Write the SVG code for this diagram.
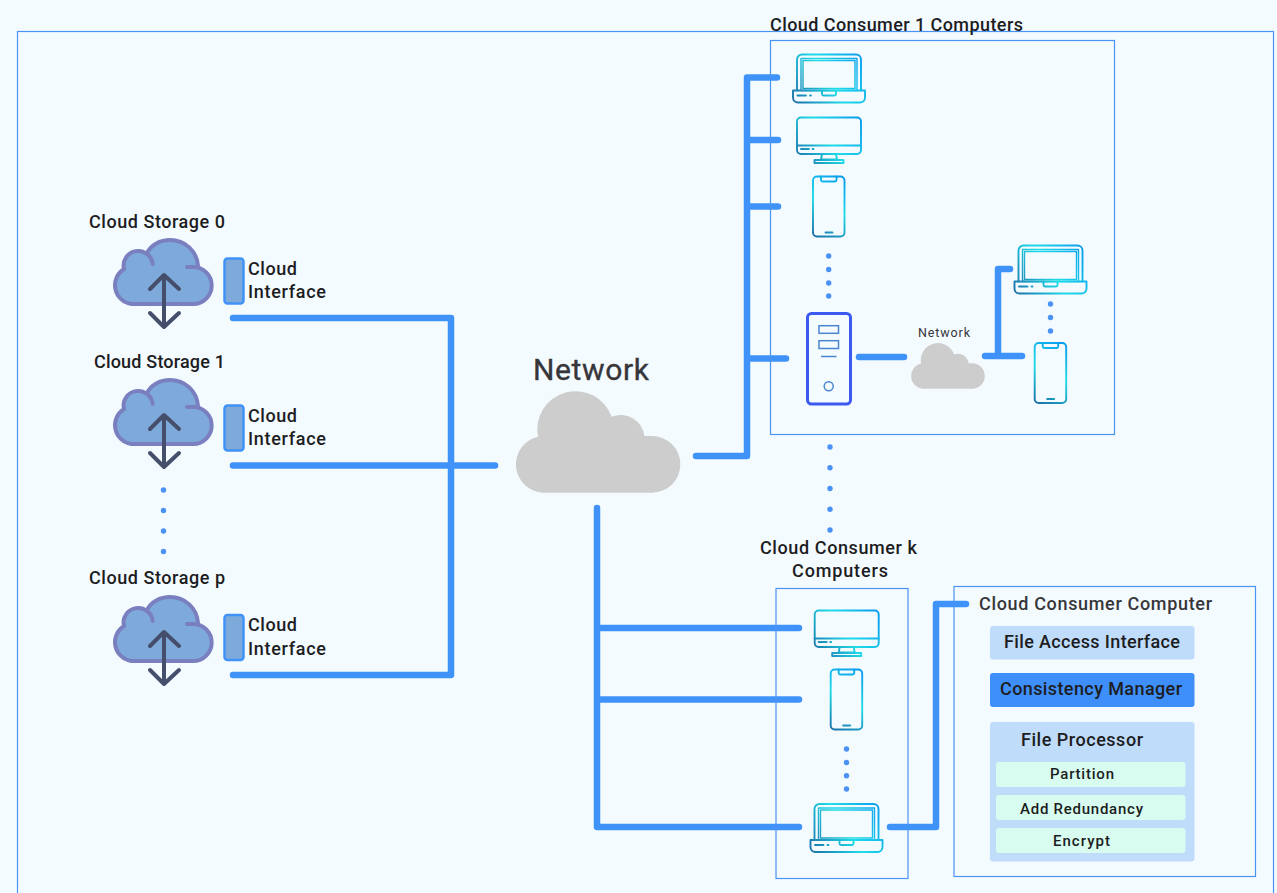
<svg xmlns="http://www.w3.org/2000/svg" width="1277" height="893" viewBox="0 0 1277 893">
<style>
text{font-family:"Roboto","Liberation Sans",sans-serif;font-weight:500;font-size:18px;fill:#1d1d1f}
.soft{fill:#36363a}
.net{font-weight:400;stroke:#36363a;stroke-width:.35}
.small{font-size:15px}
.frame{fill:none;stroke:#4a93f5;stroke-width:1.2}
.conn{fill:none;stroke:#3f93f8;stroke-width:6.500;stroke-linecap:round;stroke-linejoin:round}
.dots{fill:#4a92f5}
.ico{fill:none;stroke-width:1.900;stroke-linejoin:round;stroke-linecap:round}
.lap{stroke:url(#gl)}
.desk{stroke:url(#gd)}
.ph{stroke:url(#gp)}
.cfill{fill:#7eaadb}
.cline{fill:none;stroke:#7a80bf;stroke-width:4;stroke-linecap:round}
.arr{fill:none;stroke:#454e6b;stroke-width:4;stroke-linecap:round;stroke-linejoin:round}
.iface{fill:#7eaadb;stroke:#3f93f8;stroke-width:2.500}
.grey{fill:#cdcdcd}
.lb{fill:#c0dcfb}
.mint{fill:#d8fdf0}
</style>
<defs>
<linearGradient id="gl" gradientUnits="userSpaceOnUse" x1="0" y1="49" x2="74" y2="0"><stop offset="0" stop-color="#1a6aa6"/><stop offset=".5" stop-color="#1fdde8"/><stop offset="1" stop-color="#0796ee"/></linearGradient>
<linearGradient id="gd" gradientUnits="userSpaceOnUse" x1="0" y1="47" x2="66" y2="0"><stop offset="0" stop-color="#1a6aa6"/><stop offset=".5" stop-color="#1fdde8"/><stop offset="1" stop-color="#0796ee"/></linearGradient>
<linearGradient id="gp" gradientUnits="userSpaceOnUse" x1="0" y1="62" x2="33.500" y2="0"><stop offset="0" stop-color="#1a6aa6"/><stop offset=".5" stop-color="#1fdde8"/><stop offset="1" stop-color="#0796ee"/></linearGradient>
<g id="laptop" class="ico lap">
<path d="M5 36V5a5 5 0 0 1 5-5H64a5 5 0 0 1 5 5V36"/>
<rect x="9" y="4" width="56" height="32" stroke-width="1.400"/>
<rect x="11" y="6" width="52" height="28" stroke-width="1.400"/>
<path d="M1 36H73V43a5 5 0 0 1-5 5H6a5 5 0 0 1-5-5Z"/>
<path d="M30 36V39.500a1.500 1.500 0 0 0 1.500 1.500H42.500a1.500 1.500 0 0 0 1.500-1.500V36"/>
<path d="M5.500 41H14M18 41H19"/>
</g>
<g id="desktop" class="ico desk">
<rect x="1" y="1" width="64" height="36.500" rx="4"/>
<path d="M1 29H65M5 32.500H13M16.500 32.500H17.500M26 37.500L25 43H41L40 37.500"/>
<rect x="18.500" y="43.500" width="29" height="3"/>
</g>
<g id="phone" class="ico ph">
<rect x="1" y="1" width="31.500" height="60" rx="4"/>
<path d="M9 1V4.500a1.500 1.500 0 0 0 1.500 1.500H23a1.500 1.500 0 0 0 1.500-1.500V1M13.500 57H20.500"/>
</g>
<path id="gcloud" d="M543.300 492.700A28.300 28.300 0 0 1 538 436.800A38.300 38.300 0 0 1 611.700 416.700A24 24 0 0 1 644.400 436H652A28.350 28.350 0 0 1 652 492.700Z"/>
<g id="scloud">
<path class="cfill" d="M131.500 304A19 19 0 0 1 124 269A14.200 14.200 0 1 1 152.700 264L147 253C151 245 160 240 170 240C185 240 197 251 198 268L193.200 267A18.500 18.500 0 0 1 193.200 304Z"/>
<path class="cline" d="M152.700 264A14.600 14.600 0 1 0 124 269A19 19 0 0 0 131.500 304H193.200A18.500 18.500 0 0 0 193.200 267H187M147 253C151 245 160 240 170 240C185 240 197 251 198 266"/>
<path class="arr" d="M164 276V327M150 289L164 275L179 289M150 313L164 327L179 313"/>
</g>
</defs>
<rect width="1277" height="893" fill="#f4fbff"/>
<rect class="frame" x="17.500" y="31.500" width="1256" height="880"/>

<g id="connectors">
<path class="conn" d="M233 318H451V675H233"/>
<path class="conn" d="M233 465.500H495"/>
<path class="conn" d="M696 456H747V77.500H777M747 140H778M747 206.500H778M747 358.500H786"/>
<path class="conn" d="M597 508V827H799M597 628H799M597 699.500H799"/>
<path class="conn" d="M890 827H936V604H966"/>
<path class="conn" d="M859 357H904"/>
<path class="conn" d="M985 356H1022M998 356V269H1010"/>
</g>

<g id="cloud-storage-0">
<text x="89" y="228" textLength="136">Cloud Storage 0</text>
<use href="#scloud"/>
<rect class="iface" x="224.500" y="258.500" width="19" height="45" rx="3"/>
<text x="248" y="275" textLength="49">Cloud</text>
<text x="248" y="298" textLength="78">Interface</text>
</g>
<g id="cloud-storage-1">
<text x="94" y="368" textLength="131">Cloud Storage 1</text>
<use href="#scloud" y="140"/>
<rect class="iface" x="224.500" y="405.500" width="19" height="45" rx="3"/>
<text x="248" y="422" textLength="49">Cloud</text>
<text x="248" y="445" textLength="78">Interface</text>
</g>
<g id="cloud-storage-dots" class="dots">
<circle cx="163.500" cy="490" r="2.700"/><circle cx="163.500" cy="510.500" r="2.700"/><circle cx="163.500" cy="531" r="2.700"/><circle cx="163.500" cy="551.500" r="2.700"/>
</g>
<g id="cloud-storage-p">
<text x="89" y="584" textLength="136">Cloud Storage p</text>
<use href="#scloud" y="357"/>
<rect class="iface" x="224.500" y="615" width="19" height="45" rx="3"/>
<text x="248" y="631" textLength="49">Cloud</text>
<text x="248" y="655" textLength="78">Interface</text>
</g>

<g id="network">
<text class="soft net" x="533" y="380" textLength="116" style="font-size:30px">Network</text>
<use href="#gcloud" class="grey"/>
</g>

<g id="consumer-1">
<rect class="frame" x="770.500" y="40.500" width="344" height="394"/>
<text x="770" y="31" textLength="253">Cloud Consumer 1 Computers</text>
<use href="#laptop" x="792" y="54.500"/>
<use href="#desktop" x="796" y="116.500"/>
<use href="#phone" x="812" y="175.500"/>
<g class="dots"><circle cx="828.700" cy="256" r="2.700"/><circle cx="828.700" cy="269.500" r="2.700"/><circle cx="828.700" cy="283" r="2.700"/><circle cx="828.700" cy="296" r="2.700"/></g>
<g id="server">
<rect x="807.500" y="313.500" width="43" height="90.500" rx="4" fill="none" stroke="#3a5af0" stroke-width="3"/>
<g fill="none" stroke="#4a86d0" stroke-width="1.500">
<rect x="819" y="325.700" width="19.500" height="7.600"/>
<rect x="819" y="340.700" width="19.500" height="7.800"/>
<path d="M821 356.500H836.500"/>
<circle cx="828.700" cy="386.300" r="4.500"/>
</g>
</g>
<g id="network-small">
<text class="soft" x="918" y="337" textLength="52" style="font-size:12.500px;font-weight:400">Network</text>
<use href="#gcloud" class="grey" transform="translate(680 167.900) scale(.448)"/>
</g>
<use href="#laptop" x="1013.500" y="245.500"/>
<g class="dots"><circle cx="1050.500" cy="304" r="2.700"/><circle cx="1050.500" cy="317.500" r="2.700"/><circle cx="1050.500" cy="331" r="2.700"/></g>
<use href="#phone" x="1033.700" y="342"/>
</g>

<g id="consumer-dots" class="dots">
<circle cx="830" cy="447" r="2.700"/><circle cx="830" cy="467.800" r="2.700"/><circle cx="830" cy="488.500" r="2.700"/><circle cx="830" cy="509.300" r="2.700"/><circle cx="830" cy="530" r="2.700"/>
</g>

<g id="consumer-k">
<rect class="frame" x="776" y="588.500" width="132" height="290"/>
<text x="760" y="554" textLength="157">Cloud Consumer k</text>
<text x="792" y="577" textLength="96">Computers</text>
<use href="#desktop" x="813.700" y="609.500"/>
<use href="#phone" x="829.700" y="668.500"/>
<g class="dots"><circle cx="846.500" cy="749" r="2.700"/><circle cx="846.500" cy="762.500" r="2.700"/><circle cx="846.500" cy="775.700" r="2.700"/><circle cx="846.500" cy="789" r="2.700"/></g>
<use href="#laptop" x="809.500" y="804"/>
</g>

<g id="cloud-consumer-computer">
<rect class="frame" x="954" y="586.500" width="301.500" height="290"/>
<text class="soft" x="979" y="610" textLength="233">Cloud Consumer Computer</text>
<rect class="lb" x="990" y="626" width="204.500" height="33.500" rx="3"/>
<text x="1004" y="648" textLength="176">File Access Interface</text>
<rect x="990" y="673" width="204.500" height="34" rx="3" fill="#3f8ffa"/>
<text x="1000" y="695" textLength="182">Consistency Manager</text>
<rect class="lb" x="990" y="722" width="204.500" height="139.500" rx="3"/>
<text x="1021" y="746" textLength="122">File Processor</text>
<rect class="mint" x="996" y="762" width="189.500" height="25" rx="3"/>
<text class="small" x="1050" y="779" textLength="64">Partition</text>
<rect class="mint" x="996" y="795" width="189.500" height="25" rx="3"/>
<text class="small" x="1020" y="814" textLength="123">Add Redundancy</text>
<rect class="mint" x="996" y="828" width="189.500" height="25" rx="3"/>
<text class="small" x="1053" y="846" textLength="57">Encrypt</text>
</g>
</svg>
